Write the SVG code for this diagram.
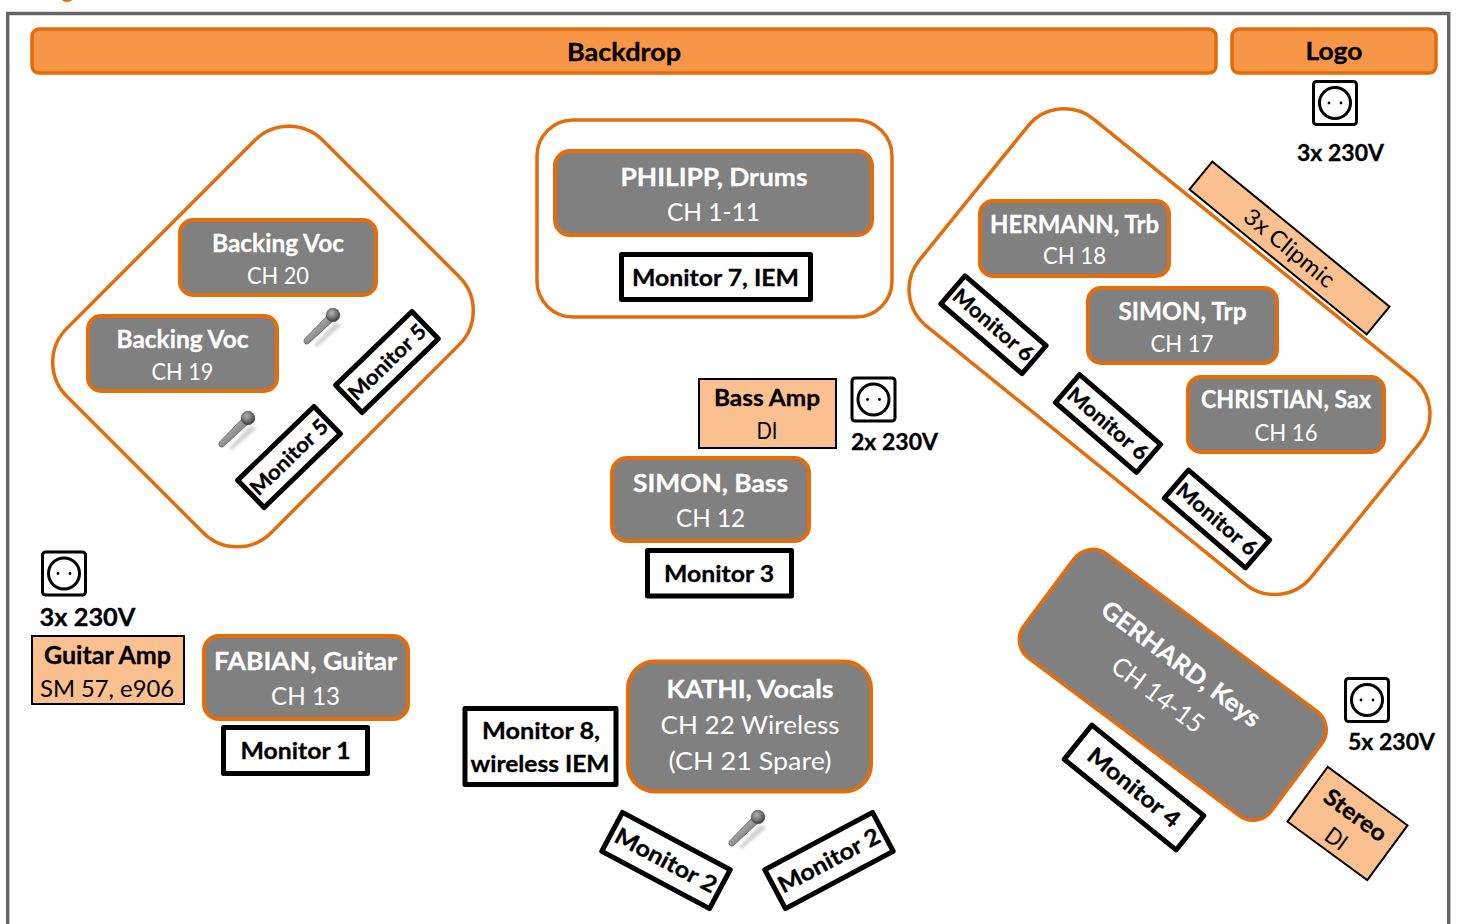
<svg xmlns="http://www.w3.org/2000/svg" width="1457" height="924" viewBox="0 0 1457 924">
<style>
text{font-family:"Lato","Carlito","Open Sans",sans-serif;text-anchor:middle}
.b{font-weight:700;stroke-width:0.3}
.r{font-weight:400}
.k{fill:#000}
.b.k{stroke:#000}
.w{fill:#fff}
.b.w{stroke:#fff}
.s21{font-size:21px}.s22{font-size:22px}.s23{font-size:23px}.s24{font-size:24px}.s25{font-size:25px}.s26{font-size:26px}
.zone{fill:#fff;stroke:#E46C0A;stroke-width:3.5}
.musician{fill:#808080;stroke:#E46C0A;stroke-width:4}
.bar{fill:#F79646;stroke:#E46C0A;stroke-width:3.5}
.peach{fill:#FAC090;stroke:#000;stroke-width:2}
.mon{fill:#fff;stroke:#000;stroke-width:5;stroke-linejoin:round}
.sock{fill:#fff;stroke:#000;stroke-width:3}
</style>
<defs>
<linearGradient id="micBody" x1="0" y1="0" x2="1" y2="1"><stop offset="0" stop-color="#d8d8d8"/><stop offset="0.5" stop-color="#969696"/><stop offset="1" stop-color="#3c3c3c"/></linearGradient>
<radialGradient id="micHead" cx="0.4" cy="0.35" r="0.7"><stop offset="0" stop-color="#b4b4b4"/><stop offset="0.6" stop-color="#6c6c6c"/><stop offset="1" stop-color="#303030"/></radialGradient>
<filter id="soft" x="-50%" y="-50%" width="200%" height="200%"><feGaussianBlur stdDeviation="1.6"/></filter>
<g id="mic">
<path d="M2 8 L-19 30 L-16 32 L9 10Z" fill="#999" opacity="0.45" filter="url(#soft)"/>
<path d="M-5 0 L-28.500 24 Q-30 26.500 -28 28.500 Q-26 30 -24 28 L1 5Z" fill="url(#micBody)" stroke="#555" stroke-width="0.7"/>
<circle cx="0" cy="0" r="6.800" fill="url(#micHead)" stroke="#444" stroke-width="0.6"/>
</g>
<g id="socket">
<rect class="sock" x="-21.500" y="-21.500" width="43" height="43" rx="3"/>
<circle cx="0" cy="0" r="15.500" fill="#fff" stroke="#000" stroke-width="3"/>
<circle cx="-6" cy="0" r="1.400" fill="#000"/><circle cx="6" cy="0" r="1.400" fill="#000"/>
</g>
</defs>
<rect width="1457" height="924" fill="#fff"/>
<g id="frame">
<circle cx="67" cy="-6" r="8" fill="#E46C0A"/>
<rect x="7.700" y="13.500" width="1441" height="1000" fill="none" stroke="#666" stroke-width="3.500"/>
</g>
<g id="zones">
<rect id="zone-backing" class="zone" x="82" y="192" width="362" height="289" rx="48" transform="rotate(-45 263 336.500)"/>
<rect id="zone-drums" class="zone" x="537" y="120" width="355" height="197" rx="36"/>
<rect id="zone-horns" class="zone" x="917.500" y="218.700" width="504" height="266" rx="47" transform="rotate(39 1169.500 351.700)"/>
</g>
<g id="connectors"></g>
<g id="backdrop"><rect class="bar" x="32" y="29" width="1184" height="44" rx="7"/><text class="b k s24" x="624" y="61" textLength="114" lengthAdjust="spacingAndGlyphs">Backdrop</text></g>
<g id="logo"><rect class="bar" x="1232" y="29" width="204" height="44" rx="7"/><text class="b k s24" x="1334" y="60" textLength="57" lengthAdjust="spacingAndGlyphs">Logo</text></g>
<g id="power-logo"><use href="#socket" x="1335" y="103"/><text class="b k s22" x="1340.500" y="161" textLength="87" lengthAdjust="spacingAndGlyphs">3x 230V</text></g>
<g id="backing-20"><rect class="musician" x="180" y="220" width="196" height="75" rx="13"/><text class="b w s24" x="278" y="251.500" textLength="132" lengthAdjust="spacingAndGlyphs">Backing Voc</text><text class="r w s24" x="278" y="284" textLength="62" lengthAdjust="spacingAndGlyphs">CH 20</text></g>
<g id="backing-19"><rect class="musician" x="88" y="316" width="189" height="75" rx="13"/><text class="b w s24" x="182.500" y="348" textLength="132" lengthAdjust="spacingAndGlyphs">Backing Voc</text><text class="r w s24" x="182.500" y="380" textLength="62" lengthAdjust="spacingAndGlyphs">CH 19</text></g>
<g id="mic-1"><use href="#mic" x="333" y="315"/></g>
<g id="mic-2"><use href="#mic" x="248" y="418"/></g>
<g id="mic-3"><use href="#mic" x="758" y="817"/></g>
<g id="monitor-5a" transform="translate(387 362) rotate(-44)"><rect class="mon" x="-53" y="-19" width="106" height="38"/><text class="b k s21" x="0" y="7.500" textLength="99" lengthAdjust="spacingAndGlyphs">Monitor 5</text></g>
<g id="monitor-5b" transform="translate(289 457) rotate(-44)"><rect class="mon" x="-53" y="-19" width="106" height="38"/><text class="b k s21" x="0" y="7.500" textLength="99" lengthAdjust="spacingAndGlyphs">Monitor 5</text></g>
<g id="philipp"><rect class="musician" x="555" y="151" width="317" height="84" rx="15"/><text class="b w s25" x="714" y="186" textLength="187" lengthAdjust="spacingAndGlyphs">PHILIPP, Drums</text><text class="r w s25" x="713.500" y="221" textLength="93" lengthAdjust="spacingAndGlyphs">CH 1-11</text></g>
<g id="monitor-7"><rect class="mon" x="621.500" y="254.500" width="189" height="45"/><text class="b k s23" x="715.500" y="286" textLength="167" lengthAdjust="spacingAndGlyphs">Monitor 7, IEM</text></g>
<g id="bass-amp"><rect class="peach" x="699" y="379" width="137" height="69"/><text class="b k s22" x="767" y="406" textLength="106" lengthAdjust="spacingAndGlyphs">Bass Amp</text><text class="r k s24" x="767" y="439" textLength="21" lengthAdjust="spacingAndGlyphs">DI</text></g>
<g id="power-bass"><use href="#socket" x="873.500" y="399.500"/><text class="b k s22" x="894.500" y="450" textLength="87" lengthAdjust="spacingAndGlyphs">2x 230V</text></g>
<g id="simon-bass"><rect class="musician" x="612" y="458" width="197" height="83" rx="15"/><text class="b w s25" x="710.500" y="492" textLength="155" lengthAdjust="spacingAndGlyphs">SIMON, Bass</text><text class="r w s25" x="710.500" y="527" textLength="69" lengthAdjust="spacingAndGlyphs">CH 12</text></g>
<g id="monitor-3"><rect class="mon" x="647.500" y="550.500" width="144" height="45.500"/><text class="b k s23" x="719" y="582" textLength="110" lengthAdjust="spacingAndGlyphs">Monitor 3</text></g>
<g id="power-guitar"><use href="#socket" x="64" y="573.500"/><text class="b k s24" x="87.500" y="626" textLength="96" lengthAdjust="spacingAndGlyphs">3x 230V</text></g>
<g id="guitar-amp"><rect class="peach" x="32" y="636" width="152" height="68"/><text class="b k s24" x="107.500" y="664" textLength="127" lengthAdjust="spacingAndGlyphs">Guitar Amp</text><text class="r k s24" x="107" y="696.500" textLength="134" lengthAdjust="spacingAndGlyphs">SM 57, e906</text></g>
<g id="fabian"><rect class="musician" x="204" y="636" width="204" height="83" rx="15"/><text class="b w s25" x="305.500" y="670" textLength="183" lengthAdjust="spacingAndGlyphs">FABIAN, Guitar</text><text class="r w s25" x="305.500" y="705" textLength="69" lengthAdjust="spacingAndGlyphs">CH 13</text></g>
<g id="monitor-1"><rect class="mon" x="223.500" y="727.500" width="144" height="46"/><text class="b k s23" x="295.500" y="759" textLength="110" lengthAdjust="spacingAndGlyphs">Monitor 1</text></g>
<g id="monitor-8"><rect class="mon" x="465" y="708.500" width="151" height="76"/><text class="b k s23" x="541" y="739" textLength="118" lengthAdjust="spacingAndGlyphs">Monitor 8,</text><text class="b k s23" x="540" y="772" textLength="139" lengthAdjust="spacingAndGlyphs">wireless IEM</text></g>
<g id="kathi"><rect class="musician" x="628" y="661.500" width="243" height="130" rx="27"/><text class="b w s25" x="750" y="698" textLength="167" lengthAdjust="spacingAndGlyphs">KATHI, Vocals</text><text class="r w s25" x="750" y="734" textLength="179" lengthAdjust="spacingAndGlyphs">CH 22 Wireless</text><text class="r w s25" x="750" y="770" textLength="163" lengthAdjust="spacingAndGlyphs">(CH 21 Spare)</text></g>
<g id="monitor-2a" transform="translate(666 860.500) rotate(28)"><rect class="mon" x="-61" y="-22" width="122" height="44"/><text class="b k s23" x="0" y="8" textLength="112" lengthAdjust="spacingAndGlyphs">Monitor 2</text></g>
<g id="monitor-2b" transform="translate(829 860.500) rotate(-28)"><rect class="mon" x="-61" y="-22" width="122" height="44"/><text class="b k s23" x="0" y="8" textLength="112" lengthAdjust="spacingAndGlyphs">Monitor 2</text></g>
<g id="clipmic" transform="translate(1289.500 248) rotate(39.300)"><rect class="peach" x="-114.500" y="-18" width="229" height="36"/><text class="r k s23" x="0" y="8" textLength="110" lengthAdjust="spacingAndGlyphs">3x Clipmic</text></g>
<g id="hermann"><rect class="musician" x="980" y="201" width="189" height="75" rx="13"/><text class="b w s24" x="1074.500" y="232.500" textLength="169" lengthAdjust="spacingAndGlyphs">HERMANN, Trb</text><text class="r w s24" x="1074.500" y="264" textLength="63" lengthAdjust="spacingAndGlyphs">CH 18</text></g>
<g id="simon-trp"><rect class="musician" x="1088" y="288" width="189" height="75" rx="13"/><text class="b w s24" x="1182.500" y="319.500" textLength="128" lengthAdjust="spacingAndGlyphs">SIMON, Trp</text><text class="r w s24" x="1182" y="352" textLength="63" lengthAdjust="spacingAndGlyphs">CH 17</text></g>
<g id="christian"><rect class="musician" x="1188" y="377" width="196" height="75" rx="13"/><text class="b w s24" x="1286" y="408" textLength="170" lengthAdjust="spacingAndGlyphs">CHRISTIAN, Sax</text><text class="r w s24" x="1286" y="441" textLength="63" lengthAdjust="spacingAndGlyphs">CH 16</text></g>
<g id="monitor-6a" transform="translate(993.500 324.750) rotate(40.700)"><rect class="mon" x="-53.500" y="-18.500" width="107" height="37"/><text class="b k s21" x="0" y="7.500" textLength="99" lengthAdjust="spacingAndGlyphs">Monitor 6</text></g>
<g id="monitor-6b" transform="translate(1108 423.500) rotate(40.700)"><rect class="mon" x="-53.500" y="-18.500" width="107" height="37"/><text class="b k s21" x="0" y="7.500" textLength="99" lengthAdjust="spacingAndGlyphs">Monitor 6</text></g>
<g id="monitor-6c" transform="translate(1217 519) rotate(40.700)"><rect class="mon" x="-53.500" y="-18.500" width="107" height="37"/><text class="b k s21" x="0" y="7.500" textLength="99" lengthAdjust="spacingAndGlyphs">Monitor 6</text></g>
<g id="gerhard" transform="translate(1172.800 684.800) rotate(36.800)"><rect class="musician" x="-154.500" y="-65" width="309" height="130" rx="23" style="stroke-width:3.500"/><text class="b w s25" x="-6" y="-13" textLength="192" lengthAdjust="spacingAndGlyphs">GERHARD, Keys</text><text class="r w s26" x="-6" y="26" textLength="108" lengthAdjust="spacingAndGlyphs">CH 14-15</text></g>
<g id="monitor-4" transform="translate(1134 787.500) rotate(39)"><rect class="mon" x="-72" y="-22" width="144" height="44"/><text class="b k s23" x="0" y="8" textLength="112" lengthAdjust="spacingAndGlyphs">Monitor 4</text></g>
<g id="power-keys"><use href="#socket" x="1367" y="700"/><text class="b k s22" x="1391.500" y="750" textLength="87" lengthAdjust="spacingAndGlyphs">5x 230V</text></g>
<g id="stereo" transform="translate(1347.500 823.500) rotate(36.300)"><rect class="peach" x="-49.500" y="-34" width="99" height="68"/><text class="b k s23" x="1.500" y="-3.500" textLength="72" lengthAdjust="spacingAndGlyphs">Stereo</text><text class="r k s23" x="0" y="27" textLength="22" lengthAdjust="spacingAndGlyphs">DI</text></g>
</svg>
